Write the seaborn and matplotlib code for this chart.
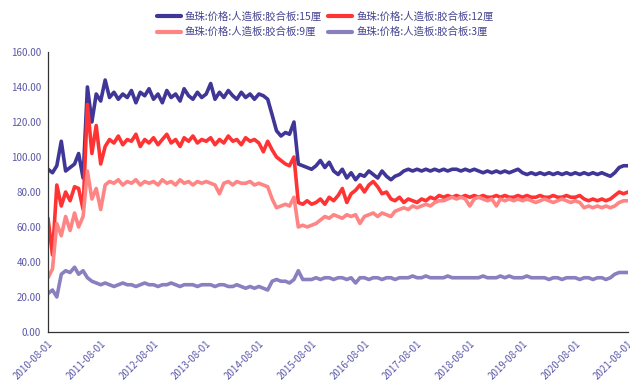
import pandas as pd
import seaborn as sns
import matplotlib.pyplot as plt
import matplotlib.dates as mdates

# 月度数据 2010-08 ~ 2021-08（每行一年：8月至次年7月）
months = pd.date_range("2010-08-01", "2021-08-01", freq="MS")

s15 = [93, 91, 95, 109, 92, 94, 96, 102, 88, 140, 120, 136,
       132, 144, 134, 137, 133, 136, 134, 138, 131, 137, 135, 139,
       133, 136, 131, 138, 134, 136, 132, 139, 135, 133, 137, 134,
       136, 142, 133, 137, 134, 138, 135, 133, 137, 134, 136, 133,
       136, 135, 133, 124, 115, 112, 114, 113, 120, 96, 95, 94,
       93, 95, 98, 94, 97, 92, 90, 93, 88, 91, 87, 90,
       89, 92, 90, 88, 92, 89, 87, 89, 90, 92, 93, 92,
       93, 92, 93, 92, 93, 92, 93, 92, 93, 93, 92, 93,
       92, 93, 92, 91, 92, 91, 92, 91, 92, 91, 92, 93,
       91, 90, 91, 90, 91, 90, 91, 90, 91, 90, 91, 90,
       91, 90, 91, 90, 91, 90, 91, 90, 89, 91, 94, 95,
       95]

s12 = [65, 44, 84, 72, 80, 75, 83, 82, 70, 130, 102, 118,
       96, 106, 110, 108, 112, 107, 110, 109, 113, 106, 110, 108,
       111, 107, 110, 113, 108, 110, 106, 111, 109, 112, 108, 110,
       109, 111, 107, 110, 108, 112, 109, 110, 107, 111, 109, 110,
       108, 103, 109, 104, 100, 98, 96, 95, 100, 74, 73, 75,
       73, 74, 76, 73, 77, 75, 78, 82, 74, 79, 81, 84,
       80, 84, 86, 83, 79, 80, 76, 75, 77, 74, 76, 75,
       74, 76, 75, 77, 76, 78, 77, 78, 77, 78, 77, 78,
       77, 78, 77, 78, 77, 77, 78, 77, 78, 77, 77, 78,
       77, 78, 77, 77, 78, 77, 77, 78, 77, 77, 78, 77,
       77, 78, 76, 75, 76, 75, 76, 75, 76, 78, 80, 79,
       80]

s9 = [31, 36, 62, 55, 66, 58, 68, 60, 66, 92, 76, 82,
      70, 84, 86, 85, 87, 84, 86, 85, 87, 84, 86, 85,
      86, 84, 87, 85, 86, 84, 87, 85, 86, 84, 86, 85,
      86, 85, 84, 79, 85, 86, 84, 86, 85, 85, 86, 84,
      85, 84, 83, 76, 71, 72, 73, 72, 77, 60, 61, 60,
      61, 62, 64, 66, 65, 67, 66, 65, 67, 66, 67, 62,
      66, 67, 68, 66, 68, 67, 66, 69, 70, 71, 70, 72,
      71, 72, 73, 72, 74, 75, 75, 76, 77, 76, 77, 76,
      72, 76, 77, 76, 75, 76, 72, 76, 75, 76, 75, 76,
      75, 76, 75, 74, 75, 76, 75, 74, 75, 76, 75, 74,
      75, 74, 71, 72, 71, 72, 71, 72, 71, 72, 74, 75,
      75]

s3 = [22, 24, 20, 33, 35, 34, 37, 33, 35, 31, 29, 28,
      27, 28, 27, 26, 27, 28, 27, 27, 26, 27, 28, 27,
      27, 26, 27, 27, 28, 27, 26, 27, 27, 27, 26, 27,
      27, 27, 26, 27, 27, 26, 26, 27, 26, 25, 26, 25,
      26, 25, 24, 29, 30, 29, 29, 28, 30, 35, 30, 30,
      30, 31, 30, 31, 31, 30, 31, 31, 30, 31, 28, 31,
      31, 30, 31, 31, 30, 31, 31, 30, 31, 31, 31, 32,
      31, 31, 32, 31, 31, 31, 31, 32, 31, 31, 31, 31,
      31, 31, 31, 32, 31, 31, 31, 32, 31, 32, 31, 31,
      31, 32, 31, 31, 31, 31, 30, 31, 31, 30, 31, 31,
      31, 30, 31, 31, 30, 31, 31, 30, 31, 33, 34, 34,
      34]

names = ["鱼珠:价格:人造板:胶合板:15厘", "鱼珠:价格:人造板:胶合板:12厘",
         "鱼珠:价格:人造板:胶合板:9厘", "鱼珠:价格:人造板:胶合板:3厘"]
colors = ["#3f3697", "#ff3333", "#ff8585", "#8a80c0"]

sns.set_theme(style="white")
plt.rcParams['font.family'] = ['Noto Sans CJK SC', 'DejaVu Sans']
plt.rcParams['axes.unicode_minus'] = False

frames = []
for name, vals in zip(names, [s15, s12, s9, s3]):
    frames.append(pd.DataFrame({"date": months, "value": vals, "series": name}))
df = pd.concat(frames, ignore_index=True)

fig = plt.figure(figsize=(6.3, 3.83), dpi=100)
ax = fig.add_axes([0.0762, 0.1332, 0.9206, 0.731])

sns.lineplot(data=df, x="date", y="value", hue="series", hue_order=names,
             palette=colors, linewidth=2.6, ax=ax, legend=True)

ax.set_xlim(pd.Timestamp("2010-08-01"), pd.Timestamp("2021-08-01"))
ax.set_ylim(0, 160)
ax.set_yticks(range(0, 161, 20))
ax.set_yticklabels([f"{v:.2f}" for v in range(0, 161, 20)])
ax.set_xticks(pd.date_range("2010-08-01", "2021-08-01", freq="12MS"))
ax.xaxis.set_major_formatter(mdates.DateFormatter("%Y-%m-%d"))
plt.setp(ax.get_xticklabels(), rotation=45, ha="right", rotation_mode="anchor")

tick_color = "#5a58a6"
ax.tick_params(axis="both", colors="#444444", labelcolor=tick_color,
               labelsize=7, length=3, width=0.8, direction="out")
ax.tick_params(axis="x", pad=2)
ax.tick_params(axis="y", pad=2)
ax.set_xlabel("")
ax.set_ylabel("")
for side in ["top", "right"]:
    ax.spines[side].set_visible(False)
for side in ["left", "bottom"]:
    ax.spines[side].set_color("#333333")
    ax.spines[side].set_linewidth(0.9)

# 图例按行排列：15厘、12厘 / 9厘、3厘
handles, labels = ax.get_legend_handles_labels()
ax.get_legend().remove()
order = [0, 2, 1, 3]
leg = fig.legend([handles[i] for i in order], [labels[i] for i in order],
                 loc="upper center", bbox_to_anchor=(0.516, 0.995),
                 ncol=2, frameon=False, fontsize=7.5, handlelength=2.3,
                 columnspacing=0.6, handletextpad=0.4, labelspacing=0.5)
for t in leg.get_texts():
    t.set_color("#44438f")
for h in leg.get_lines():
    h.set_linewidth(3)

fig.savefig("out.png", dpi=100)
